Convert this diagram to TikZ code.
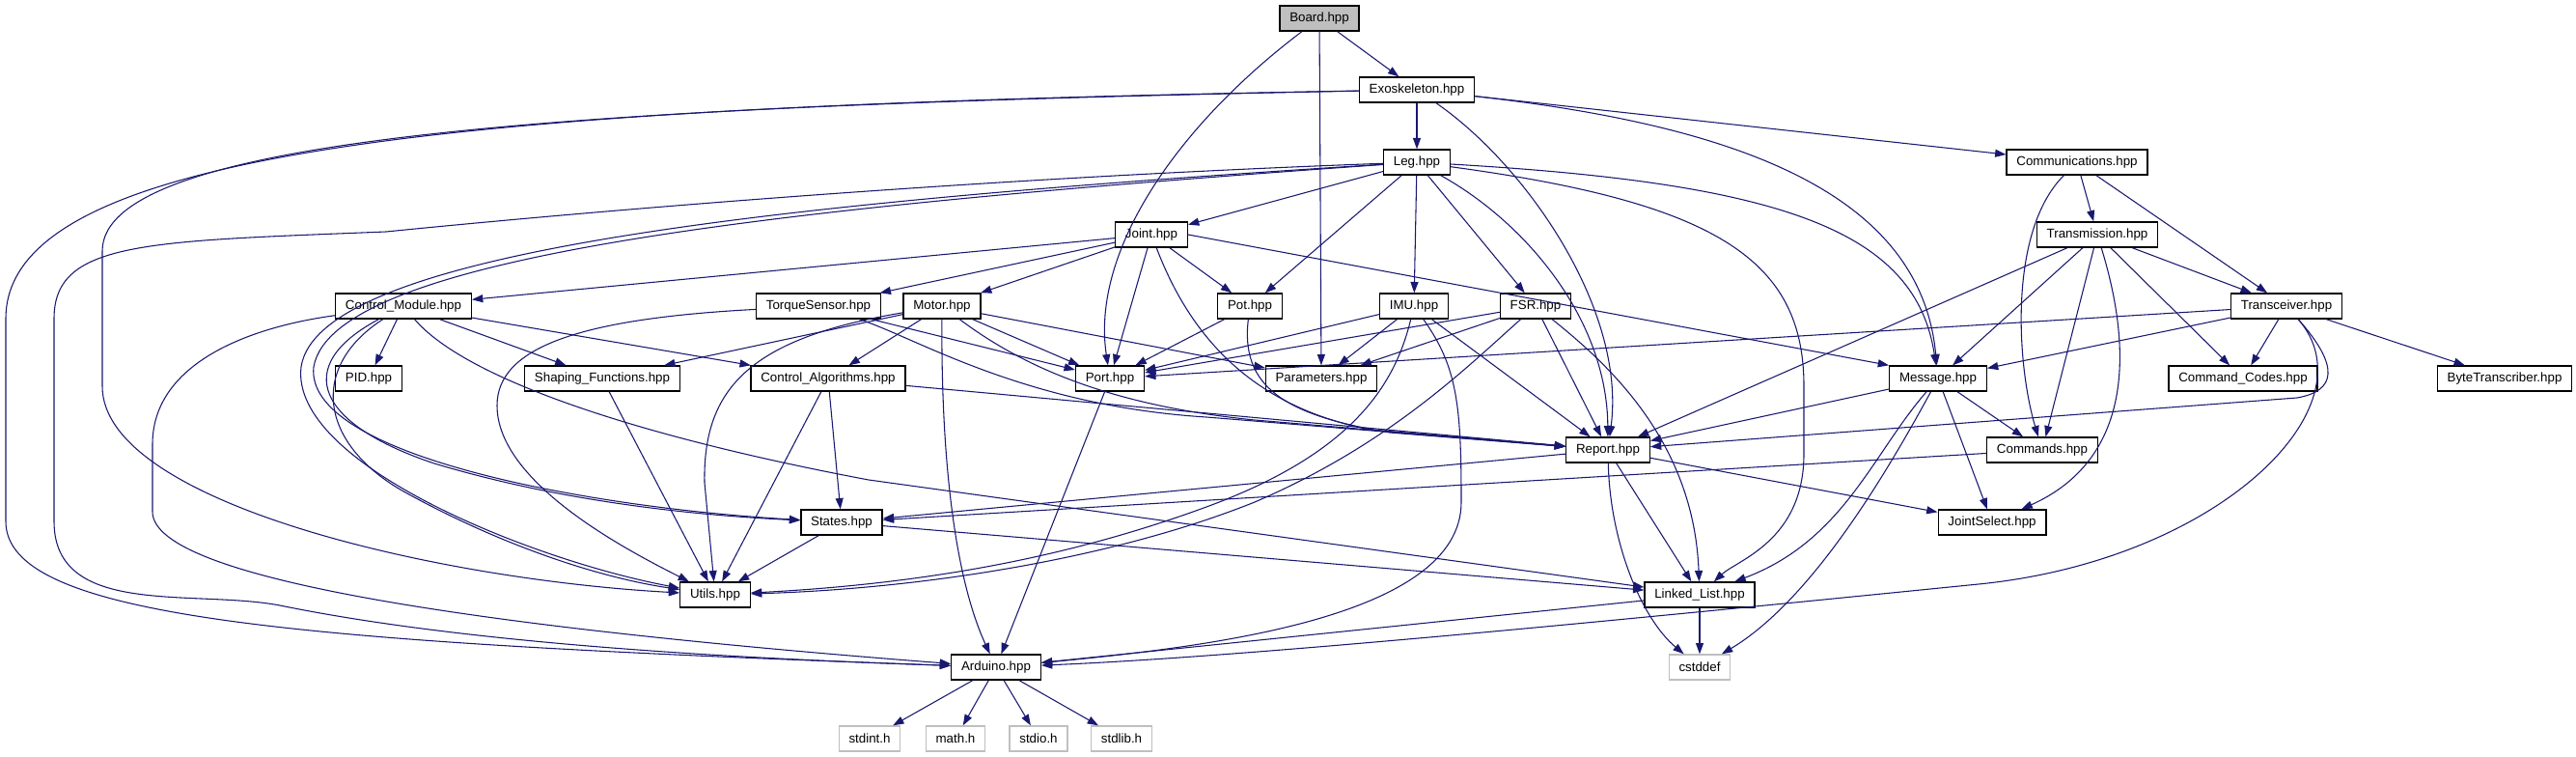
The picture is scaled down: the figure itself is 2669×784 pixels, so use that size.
\documentclass[tikz,border=0pt]{standalone}
\usepackage{fontspec}
\setmainfont{Liberation Sans}
\usetikzlibrary{arrows.meta}
\definecolor{incblue}{RGB}{25,25,112}
\definecolor{grey75}{RGB}{191,191,191}
\tikzset{
  hdr/.style={draw=black, line width=1pt, fill=white, font=\fontsize{10}{12}\selectfont,
    minimum height=19.5pt, inner xsep=7.7pt, inner ysep=0pt},
  syshdr/.style={hdr, draw=grey75},
  roothdr/.style={hdr, fill=grey75},
  inc/.style={draw=incblue, line width=0.8pt, -{Triangle[length=8.5pt,width=6pt]}},
}
\begin{document}
\begin{tikzpicture}[x=0.75pt,y=-0.75pt]
        \useasboundingbox (0,0) rectangle (2669,784);
        \fill[white] (0,0) rectangle (2669,784);
        % headers, row by row
        \node[roothdr] (board) at (1367,19) {Board.hpp};
        \node[hdr] (exo) at (1468,93) {Exoskeleton.hpp};
        \node[hdr] (leg) at (1468,168) {Leg.hpp};
        \node[hdr] (comm) at (2152,168) {Communications.hpp};
        \node[hdr] (joint) at (1193,243) {Joint.hpp};
        \node[hdr] (transm) at (2173,243) {Transmission.hpp};
        \node[hdr] (ctrlmod) at (418,317) {Control\_Module.hpp};
        \node[hdr] (torque) at (848,317) {TorqueSensor.hpp};
        \node[hdr] (motor) at (976,317) {Motor.hpp};
        \node[hdr] (pot) at (1295,317) {Pot.hpp};
        \node[hdr] (imu) at (1465,317) {IMU.hpp};
        \node[hdr] (fsr) at (1591,317) {FSR.hpp};
        \node[hdr] (transc) at (2369,317) {Transceiver.hpp};
        \node[hdr] (pid) at (382,392) {PID.hpp};
        \node[hdr] (shaping) at (624,392) {Shaping\_Functions.hpp};
        \node[hdr] (ctrlalg) at (858,392) {Control\_Algorithms.hpp};
        \node[hdr] (port) at (1150,392) {Port.hpp};
        \node[hdr] (params) at (1369,392) {Parameters.hpp};
        \node[hdr] (message) at (2008,392) {Message.hpp};
        \node[hdr] (cmdcodes) at (2324,392) {Command\_Codes.hpp};
        \node[hdr] (bytetr) at (2595,392) {ByteTranscriber.hpp};
        \node[hdr] (report) at (1666,466) {Report.hpp};
        \node[hdr] (commands) at (2116,466) {Commands.hpp};
        \node[hdr] (states) at (872,541) {States.hpp};
        \node[hdr] (jointsel) at (2064,541) {JointSelect.hpp};
        \node[hdr] (utils) at (741,616) {Utils.hpp};
        \node[hdr] (linked) at (1761,616) {Linked\_List.hpp};
        \node[hdr] (arduino) at (1032,691) {Arduino.hpp};
        \node[syshdr] (cstddef) at (1761,691) {cstddef};
        \node[syshdr] (stdint) at (901,765) {stdint.h};
        \node[syshdr] (mathh) at (990,765) {math.h};
        \node[syshdr] (stdio) at (1076,765) {stdio.h};
        \node[syshdr] (stdlib) at (1162,765) {stdlib.h};
        % Board.hpp
        \draw[inc] (board) -- (exo);
        \draw[inc] (board) -- (params);
        \draw[inc] (board) .. controls (1220,130) and (1130,260) .. (port);
        % Exoskeleton.hpp
        \draw[inc] (exo) -- (leg);
        \draw[inc] (exo) -- (comm);
        \draw[inc] (exo) .. controls (1580,170) and (1685,320) .. (report);
        \draw[inc] (exo) .. controls (1800,130) and (1990,200) .. (message);
        \draw[inc] (exo) .. controls (600,110) and (106,140) .. (106,260) -- (106,400) .. controls (106,520) and (450,600) .. (utils);
        \draw[inc] (exo) .. controls (500,110) and (6,150) .. (6,330) -- (6,540) .. controls (6,640) and (300,665) .. (arduino);
        % Leg.hpp
        \draw[inc] (leg) -- (joint);
        \draw[inc] (leg) -- (pot);
        \draw[inc] (leg) -- (imu);
        \draw[inc] (leg) -- (fsr);
        \draw[inc] (leg) .. controls (1580,230) and (1665,330) .. (report);
        \draw[inc] (leg) .. controls (1850,190) and (1985,240) .. (message);
        \draw[inc] (leg) .. controls (1780,210) and (1869,270) .. (1869,400) -- (1869,470) .. controls (1869,560) and (1800,580) .. (linked);
        \draw[inc] (leg) .. controls (1000,185) and (600,220) .. (400,240) .. controls (150,250) and (56,250) .. (56,330) -- (56,540) .. controls (56,640) and (200,610) .. (290,627) .. controls (500,670) and (800,683) .. (arduino);
        \draw[inc] (leg) .. controls (800,210) and (330,260) .. (312,380) .. controls (300,480) and (550,580) .. (utils);
        \draw[inc] (leg) .. controls (800,215) and (345,265) .. (325,380) .. controls (315,470) and (600,525) .. (states);
        % Communications.hpp
        \draw[inc] (comm) -- (transm);
        \draw[inc] (comm) -- (transc);
        \draw[inc] (comm) .. controls (2080,240) and (2090,380) .. (commands);
        % Joint.hpp
        \draw[inc] (joint) -- (ctrlmod);
        \draw[inc] (joint) -- (torque);
        \draw[inc] (joint) -- (motor);
        \draw[inc] (joint) -- (port);
        \draw[inc] (joint) -- (pot);
        \draw[inc] (joint.east) -- (message.north west);
        \draw[inc] (joint) .. controls (1230,340) and (1290,420) .. (1420,445) -- (report);
        % Transmission.hpp
        \draw[inc] (transm) -- (report);
        \draw[inc] (transm) -- (message);
        \draw[inc] (transm) -- (commands);
        \draw[inc] (transm) -- (cmdcodes);
        \draw[inc] (transm) -- (transc);
        \draw[inc] (transm) .. controls (2215,380) and (2200,480) .. (jointsel);
        % Control_Module.hpp
        \draw[inc] (ctrlmod) -- (pid);
        \draw[inc] (ctrlmod) -- (shaping);
        \draw[inc] (ctrlmod) -- (ctrlalg);
        \draw[inc] (ctrlmod) .. controls (300,380) and (330,440) .. (450,480) .. controls (600,525) and (750,535) .. (states);
        \draw[inc] (ctrlmod) .. controls (320,380) and (330,460) .. (420,510) .. controls (520,565) and (620,598) .. (utils);
        \draw[inc] (ctrlmod) .. controls (250,340) and (158,380) .. (158,460) -- (158,530) .. controls (158,600) and (500,650) .. (arduino);
        \draw[inc] (ctrlmod) .. controls (480,390) and (650,450) .. (900,497) -- (linked);
        % TorqueSensor.hpp
        \draw[inc] (torque) -- (port);
        \draw[inc] (torque) .. controls (950,350) and (1060,420) .. (1250,432) -- (report);
        \draw[inc] (torque) .. controls (600,330) and (515,360) .. (515,420) .. controls (515,500) and (650,570) .. (utils);
        % Motor.hpp
        \draw[inc] (motor) -- (shaping);
        \draw[inc] (motor) -- (ctrlalg);
        \draw[inc] (motor) -- (port);
        \draw[inc] (motor) -- (params);
        \draw[inc] (motor) .. controls (1060,380) and (1150,420) .. (1300,435) -- (report);
        \draw[inc] (motor) .. controls (975,480) and (990,600) .. (arduino);
        \draw[inc] (motor) .. controls (780,350) and (728,400) .. (730,500) -- (utils);
        % Pot.hpp
        \draw[inc] (pot) -- (port);
        \draw[inc] (pot) .. controls (1285,400) and (1330,430) .. (1440,448) -- (report);
        % IMU.hpp
        \draw[inc] (imu) -- (port);
        \draw[inc] (imu) -- (params);
        \draw[inc] (imu) -- (report);
        \draw[inc] (imu) .. controls (1445,400) and (1400,470) .. (1250,525) .. controls (1100,580) and (950,605) .. (utils);
        \draw[inc] (imu) .. controls (1510,380) and (1514,420) .. (1514,520) .. controls (1514,640) and (1250,670) .. (arduino);
        % FSR.hpp
        \draw[inc] (fsr) -- (port);
        \draw[inc] (fsr) -- (params);
        \draw[inc] (fsr) -- (report);
        \draw[inc] (fsr) .. controls (1670,380) and (1755,460) .. (linked);
        \draw[inc] (fsr) .. controls (1520,380) and (1440,460) .. (1300,520) .. controls (1150,580) and (950,610) .. (utils);
        % Transceiver.hpp
        \draw[inc] (transc) -- (port);
        \draw[inc] (transc) -- (message);
        \draw[inc] (transc) -- (cmdcodes);
        \draw[inc] (transc) -- (bytetr);
        \draw[inc] (transc) .. controls (2425,380) and (2420,405) .. (2380,412) -- (report);
        \draw[inc] (transc) .. controls (2460,420) and (2300,580) .. (2050,605) .. controls (1700,640) and (1300,680) .. (arduino);
        % lower levels
        \draw[inc] (ctrlalg) -- (report);
        \draw[inc] (ctrlalg) -- (states);
        \draw[inc] (ctrlalg) -- (utils);
        \draw[inc] (shaping) -- (utils);
        \draw[inc] (port) -- (arduino);
        \draw[inc] (message) -- (report);
        \draw[inc] (message) -- (commands);
        \draw[inc] (message) -- (jointsel);
        \draw[inc] (message) .. controls (1940,470) and (1910,560) .. (linked);
        \draw[inc] (message) .. controls (1960,480) and (1880,620) .. (cstddef);
        \draw[inc] (report) -- (states);
        \draw[inc] (report) -- (linked);
        \draw[inc] (report) -- (jointsel);
        \draw[inc] (report) .. controls (1668,560) and (1700,640) .. (cstddef);
        \draw[inc] (commands) -- (states);
        \draw[inc] (states) -- (utils);
        \draw[inc] (states) -- (linked);
        \draw[inc] (linked) -- (arduino);
        \draw[inc] (linked) -- (cstddef);
        % system headers
        \draw[inc] (arduino) -- (stdint);
        \draw[inc] (arduino) -- (mathh);
        \draw[inc] (arduino) -- (stdio);
        \draw[inc] (arduino) -- (stdlib);
    \end{tikzpicture}
\end{document}
